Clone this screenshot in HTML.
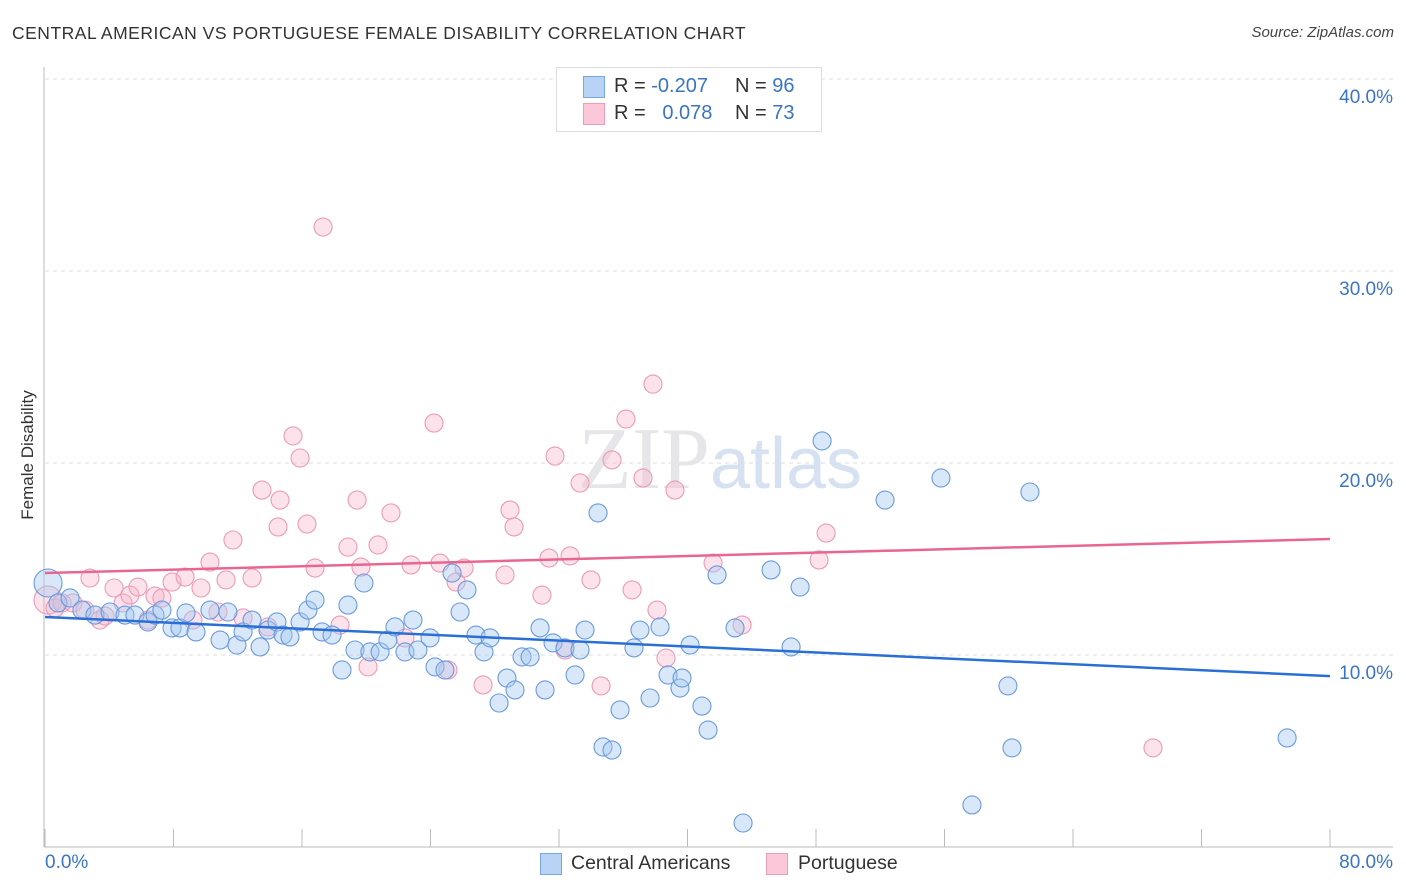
<!DOCTYPE html>
<html><head><meta charset="utf-8"><style>
body{margin:0;background:#fff;font-family:"Liberation Sans",sans-serif}
#wrap{position:relative;width:1406px;height:892px;overflow:hidden}
.t{position:absolute;white-space:nowrap}
</style></head><body>
<div id="wrap">
<div class="t" style="left:12px;top:23px;font-size:17.5px;color:#333;letter-spacing:0.5px">CENTRAL AMERICAN VS PORTUGUESE FEMALE DISABILITY CORRELATION CHART</div>
<div class="t" style="right:12px;top:24px;font-size:15px;color:#444;font-style:italic">Source: ZipAtlas.com</div>
<svg id="plot" width="1406" height="892" style="position:absolute;left:0;top:0"></svg>
</div>
<script>
const xTicks=[0,8,16,24,32,40,48,56,64,72,80];
const yTicks=[10,20,30,40];
const yTickLabels=["10.0%","20.0%","30.0%","40.0%"];
const blueX=[0.19,0.81,1.56,2.30,3.11,4.05,4.98,5.60,6.41,6.85,7.28,7.91,8.40,8.78,9.40,10.27,10.90,11.39,11.95,12.33,12.89,13.39,13.88,14.44,14.82,15.25,15.88,16.37,16.81,17.25,17.87,18.49,18.86,19.30,19.86,20.23,20.86,21.35,21.79,22.41,22.91,23.22,23.97,24.28,24.90,25.34,25.84,26.27,26.83,27.33,27.71,28.27,28.76,29.26,29.70,30.20,30.82,31.13,31.63,32.37,33.00,33.31,33.62,34.43,34.74,35.30,35.80,36.67,37.04,37.67,38.29,38.79,39.53,39.66,40.16,40.90,41.28,41.84,42.96,43.46,45.20,46.45,47.01,48.38,52.30,55.78,57.71,59.95,60.20,61.32,77.33];
const blueY=[13.75,12.71,12.97,12.34,12.08,12.24,12.08,12.08,11.72,12.08,12.34,11.41,11.41,12.19,11.20,12.34,10.78,12.24,10.52,11.20,11.82,10.42,11.30,11.72,11.04,10.94,11.72,12.34,12.86,11.20,11.04,9.22,12.60,10.26,13.75,10.16,10.16,10.78,11.46,10.16,11.82,10.26,10.89,9.38,9.22,14.27,12.24,13.39,11.04,10.16,10.89,7.50,8.80,8.18,9.90,9.90,11.41,8.18,10.63,10.37,8.96,10.26,11.30,17.40,5.21,5.05,7.14,10.37,11.30,7.76,11.46,8.96,8.28,8.80,10.52,7.34,6.09,14.17,11.41,1.25,14.43,10.42,13.54,21.15,18.07,19.22,2.19,8.39,5.16,18.49,5.68];
const pinkX=[0.19,0.62,1.06,1.74,2.49,2.80,3.42,3.74,4.30,4.86,5.29,5.79,6.41,6.85,7.28,7.91,8.72,9.21,9.71,10.27,10.77,11.27,11.70,12.33,12.89,13.51,13.88,14.51,14.63,15.44,15.88,16.31,16.81,17.31,18.37,18.86,19.43,19.67,20.11,20.73,21.54,22.41,22.79,24.22,24.59,25.09,25.59,26.09,27.27,28.64,28.95,29.20,30.94,31.38,31.75,32.37,32.69,33.31,33.99,34.62,35.30,36.17,36.55,37.23,37.85,38.10,38.66,39.22,41.59,43.40,48.19,48.63,68.98];
const pinkY=[12.86,12.45,12.71,12.71,12.34,14.01,11.82,12.03,13.49,12.71,13.12,13.54,11.82,13.07,12.97,13.80,14.06,11.82,13.49,14.84,12.24,13.91,15.99,11.93,14.01,18.59,11.46,16.67,18.07,21.41,20.26,16.82,14.53,32.29,11.56,15.62,18.07,14.58,9.38,15.73,17.40,10.89,14.69,22.08,14.79,9.22,13.80,14.53,8.44,14.17,17.55,16.67,13.12,15.05,20.36,10.26,15.16,18.96,13.91,8.39,20.16,22.29,13.39,19.22,24.11,12.34,9.84,18.59,14.79,11.56,14.95,16.35,5.16];
const blueTrend=[11.98,8.9];
const pinkTrend=[14.27,16.04];
const X=v=>45+v/80*1285, Y=v=>847-v*19.2;
const svg=document.getElementById('plot'),NS='http://www.w3.org/2000/svg';
function mk(tag,at,parent){const e=document.createElementNS(NS,tag);for(const k in at)e.setAttribute(k,at[k]);(parent||svg).appendChild(e);return e;}
yTicks.forEach((t,i)=>{
 const g=mk('line',{x1:45,x2:1393,y1:Y(t),y2:Y(t),stroke:'#ddd','stroke-dasharray':'4,4'});
 
 
 const tx=mk('text',{x:1393,y:Y(t)+24,'text-anchor':'end','font-size':19,fill:'#3a75c4','font-family':'Liberation Sans, sans-serif'});
 tx.textContent=yTickLabels[i];
 
 
});
const ax=mk('line',{x1:44,x2:44,y1:67,y2:847,stroke:'#bbb'});


const bx=mk('line',{x1:44,x2:1393,y1:847,y2:847,stroke:'#bbb'});


xTicks.forEach(t=>{
 const l=mk('line',{x1:X(t),x2:X(t),y1:829,y2:847,stroke:'#bbb'});
 
 
});
const wm=mk('text',{x:720,y:488,'text-anchor':'middle','font-size':88,fill:'#e6e6ea','font-family':'Liberation Serif, serif'});
wm.innerHTML='ZIP<tspan fill="#d6e2f2" font-family="Liberation Sans, sans-serif" font-size="72">atlas</tspan>';


function dots(xs,ys,fill,stroke,name){
 xs.forEach((x,i)=>{
  const c=mk('circle',{cx:X(x),cy:Y(ys[i]),r:i===0?14:9,fill:fill,stroke:stroke,'stroke-width':1.1});
  
  
 });
}
dots(pinkX,pinkY,'rgba(246,175,199,0.35)','#ec9ab6','portuguese-point');
dots(blueX,blueY,'rgba(165,199,240,0.42)','#6a9ade','central-american-point');
const bl=mk('line',{x1:X(0),x2:X(80),y1:Y(blueTrend[0]),y2:Y(blueTrend[1]),stroke:'#2a6fd6','stroke-width':2.5});


const pl=mk('line',{x1:X(0),x2:X(80),y1:Y(pinkTrend[0]),y2:Y(pinkTrend[1]),stroke:'#e8668f','stroke-width':2.5});


</script>
<div class="t" style="left:28px;top:455px;font-size:17px;color:#333;transform:translate(-50%,-50%) rotate(-90deg)">Female Disability</div>
<div class="t" style="left:45px;top:852px;font-size:19px;color:#3a75c4">0.0%</div>
<div class="t" style="right:13px;top:852px;font-size:19px;color:#3a75c4">80.0%</div>
<div style="position:absolute;left:556px;top:67px;width:264px;height:63px;border:1px solid #ddd;background:#fff;font-size:20px">
 <div style="position:absolute;left:26px;top:8px;width:20px;height:20px;background:#b8d3f5;border:1px solid #7aa6e0"></div>
 <div class="t" style="left:57px;top:7px;color:#333">R = <span style="color:#3a75c4">-0.207</span></div>
 <div class="t" style="left:178px;top:7px;color:#333">N = <span style="color:#3a75c4">96</span></div>
 <div style="position:absolute;left:26px;top:35px;width:20px;height:20px;background:#fac8d8;border:1px solid #eb9cb7"></div>
 <div class="t" style="left:57px;top:34px;color:#333">R = &nbsp;&nbsp;<span style="color:#3a75c4">0.078</span></div>
 <div class="t" style="left:178px;top:34px;color:#333">N = <span style="color:#3a75c4">73</span></div>
</div>
<div style="position:absolute;left:540px;top:853px;width:20px;height:20px;background:#b8d3f5;border:1px solid #7aa6e0"></div>
<div class="t" style="left:571px;top:852px;font-size:19.5px;color:#333">Central Americans</div>
<div style="position:absolute;left:766px;top:853px;width:20px;height:20px;background:#fac8d8;border:1px solid #eb9cb7"></div>
<div class="t" style="left:798px;top:852px;font-size:19.5px;color:#333">Portuguese</div>
</body></html>
